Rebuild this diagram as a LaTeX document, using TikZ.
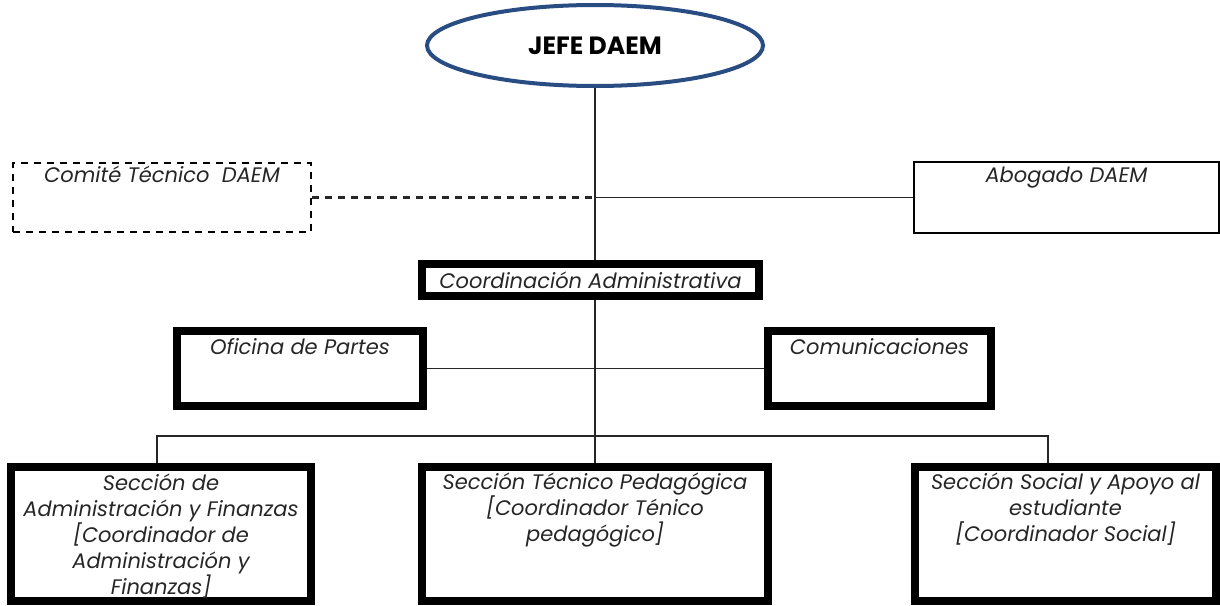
\documentclass[tikz,border=0pt]{standalone}
\usepackage{fontspec}
\setmainfont{Poppins}
\usetikzlibrary{positioning}
\usetikzlibrary{shapes.geometric}
\definecolor{daemblue}{RGB}{41,77,130}
\tikzset{
	chief/.style={draw=daemblue, ellipse, line width=4pt, inner sep=0pt, font=\fontsize{25}{28}\selectfont\bfseries},
	unit/.style={draw, rectangle, line width=8pt, inner sep=0pt},
	advisor/.style={draw, rectangle, line width=1.3pt, inner sep=0pt},
	% dashed box for the committee
	committee/.style={draw, rectangle, line width=2.5pt, dash pattern=on 7pt off 6pt, inner sep=0pt},
	txt/.style={inner sep=0pt, align=center, text=black!85, font=\fontsize{21}{26}\selectfont\itshape},
	conn/.style={line width=1.2pt, black!85},
}

\begin{document}
\begin{tikzpicture}[x=1pt, y=-1pt]
		\useasboundingbox (0,0) rectangle (1220,605);
		
		\node (jefe) [chief, minimum width=336pt, minimum height=81pt] at (595,45.5) {JEFE DAEM};
		
		\node (comite) [committee, minimum width=298pt, minimum height=69pt] at (162,197.5) {};
		\node [txt, below=4pt of comite.north] {Comit\'e T\'ecnico\ \ DAEM};
		
		\node (abog) [advisor, minimum width=305pt, minimum height=71pt] at (1066.5,197.5) {};
		\node [txt, below=5pt of abog.north] {Abogado DAEM};
		
		\node (coord) [unit, txt, minimum width=337pt, minimum height=32pt] at (590.5,280) {Coordinaci\'on Administrativa};
		
		\node (ofi) [unit, minimum width=246pt, minimum height=75pt] at (300,368.5) {};
		\node [txt, below=11pt of ofi.north] {Oficina de Partes};
		
		\node (com) [unit, minimum width=223pt, minimum height=75pt] at (879.5,368.5) {};
		\node [txt, below=11pt of com.north] {Comunicaciones};
		
		\node (sadm) [unit, minimum width=300pt, minimum height=134pt] at (161,534) {};
		\node [txt, below=11pt of sadm.north] {Secci\'on de\\Administraci\'on y Finanzas\\{}[Coordinador de\\Administraci\'on y\\Finanzas]};
		
		\node (stp) [unit, minimum width=346pt, minimum height=134pt] at (595,534) {};
		\node [txt, below=10pt of stp.north] {Secci\'on T\'ecnico Pedag\'ogica\\{}[Coordinador T\'enico\\pedag\'ogico]};
		
		\node (ssoc) [unit, minimum width=301pt, minimum height=134pt] at (1065.5,534) {};
		\node [txt, below=10pt of ssoc.north] {Secci\'on Social y Apoyo al\\estudiante\\{}[Coordinador Social]};
		
		\coordinate (busL) at (157,436);
		\coordinate (busR) at (1048,436);
		
		\begin{scope}[conn]
			\draw (jefe.south) -- (jefe.south |- coord.north);
			\draw [line width=2.5pt, dash pattern=on 7pt off 6pt] (comite.east) -- (comite.east -| jefe.south);
			\draw (comite.east -| jefe.south) -- (abog.west);
			\draw (jefe.south |- coord.south) -- (jefe.south |- stp.north);
			\draw (ofi.east) -- (com.west);
			\draw (busL |- sadm.north) -- (busL) -- (busR) -- (busR |- ssoc.north);
		\end{scope}
	\end{tikzpicture}
\end{document}
